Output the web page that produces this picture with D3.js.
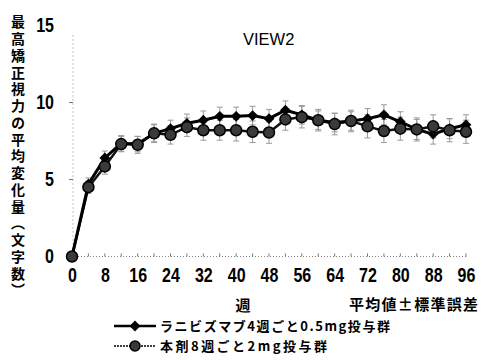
<!DOCTYPE html>
<html>
<head>
<meta charset="utf-8">
<script src="https://cdn.jsdelivr.net/npm/d3@7"></script>
<style>
  body { margin: 0; background: #fff; }
  svg { display: block; }
  .num { font-family: "Liberation Sans", Arial, sans-serif; font-weight: bold; font-size: 20px; fill: #000; }
  .jp { font-family: "Noto Sans CJK JP", sans-serif; font-weight: bold; fill: #000; }
</style>
</head>
<body>
<div id="chart"></div>
<script>
// weeks of measurement
const weeks = [0, 4, 8, 12, 16, 20, 24, 28, 32, 36, 40, 44, 48, 52, 56, 60, 64, 68, 72, 76, 80, 84, 88, 92, 96];
// ranibizumab 0.5mg q4w (diamond)
const ranibizumab = [0, 4.7, 6.4, 7.35, 7.3, 8.0, 8.3, 8.65, 8.85, 9.1, 9.1, 9.15, 8.95, 9.5, 9.2, 8.85, 8.7, 8.8, 8.95, 9.2, 8.75, 8.25, 7.95, 8.3, 8.55];
const ranibizumabSE = [0, 0.4, 0.45, 0.5, 0.5, 0.55, 0.55, 0.6, 0.6, 0.6, 0.6, 0.6, 0.6, 0.6, 0.6, 0.6, 0.6, 0.6, 0.65, 0.65, 0.65, 0.65, 0.65, 0.65, 0.65];
// this drug 2mg q8w (circle)
const aflibercept = [0, 4.5, 5.85, 7.3, 7.25, 8.0, 7.9, 8.4, 8.2, 8.2, 8.2, 8.1, 8.05, 8.9, 9.05, 8.85, 8.6, 8.8, 8.45, 8.15, 8.3, 8.25, 8.45, 8.2, 8.1];
const afliberceptSE = [0, 0.4, 0.5, 0.5, 0.55, 0.6, 0.6, 0.6, 0.65, 0.65, 0.7, 0.7, 0.7, 0.7, 0.7, 0.7, 0.7, 0.7, 0.75, 0.75, 0.75, 0.75, 0.75, 0.75, 0.75];

const xTicks = [0, 8, 16, 24, 32, 40, 48, 56, 64, 72, 80, 88, 96];
const yTicks = [0, 5, 10, 15];
const yLabel = "最高矯正視力の平均変化量（文字数）";
const title = "VIEW2";
const xLabel = "週";
const note = "平均値±標準誤差";
const legendNames = ["ラニビズマブ4週ごと0.5mg投与群", "本剤8週ごと2mg投与群"];

const width = 483, height = 360;

const svg = d3.select("#chart")
    .append("svg")
    .attr("width", width)
    .attr("height", height);

const x = d3.scaleLinear().domain([0, 96]).range([72, 466]);
const y = d3.scaleLinear().domain([0, 15]).range([256.5, 25.5]);

// dotted axes
svg.append("line")
    .attr("x1", x(0)).attr("x2", x(96) + 2)
    .attr("y1", y(0)).attr("y2", y(0))
    .attr("stroke", "#888").attr("stroke-width", 1)
    .attr("stroke-dasharray", "1,2");

svg.append("line")
    .attr("x1", x(0) + 1).attr("x2", x(0) + 1)
    .attr("y1", y(0)).attr("y2", y(14.5))
    .attr("stroke", "#888").attr("stroke-width", 1)
    .attr("stroke-dasharray", "1,3");

// minor ticks on x axis
svg.selectAll(".xminor")
    .data(weeks.slice(1))
    .enter()
    .append("line")
    .attr("x1", d => x(d)).attr("x2", d => x(d))
    .attr("y1", y(0)).attr("y2", y(0) - 3)
    .attr("stroke", "#777");

// small ticks on y axis
svg.selectAll(".yminor")
    .data([5, 10])
    .enter()
    .append("line")
    .attr("x1", x(0) - 3).attr("x2", x(0) + 1)
    .attr("y1", d => y(d)).attr("y2", d => y(d))
    .attr("stroke", "#777");

// Axes (labels only), condensed digits
const xAxis = svg.append("g")
    .attr("transform", `translate(0, ${y(0)})`)
    .call(d3.axisBottom(x).tickValues(xTicks).tickSize(0).tickPadding(11));
xAxis.select(".domain").remove();
xAxis.selectAll("text")
    .attr("class", "num").attr("font-size", null).attr("font-family", null)
    .attr("transform", "scale(0.8,1)");

const yAxis = svg.append("g")
    .attr("transform", `translate(54, 0)`)
    .call(d3.axisLeft(y).tickValues(yTicks).tickSize(0).tickPadding(0));
yAxis.select(".domain").remove();
yAxis.selectAll("text")
    .attr("class", "num").attr("font-size", null).attr("font-family", null)
    .attr("transform", "scale(0.8,1)");

// Title
svg.append("text")
    .attr("x", 243)
    .attr("y", 45)
    .attr("font-family", "Liberation Sans, Arial, sans-serif")
    .attr("font-size", 16.5)
    .text(title);

// Y label (vertical text)
svg.append("text")
    .attr("class", "jp")
    .attr("font-size", 14)
    .attr("x", 18)
    .attr("y", 15)
    .style("writing-mode", "vertical-rl")
    .attr("textLength", 282)
    .attr("lengthAdjust", "spacing")
    .text(yLabel);

// X label and note
svg.append("text")
    .attr("class", "jp")
    .attr("font-size", 15)
    .attr("text-anchor", "middle")
    .attr("x", 243)
    .attr("y", 311)
    .text(xLabel);

svg.append("text")
    .attr("class", "jp")
    .attr("font-size", 15)
    .attr("x", 349)
    .attr("y", 310)
    .attr("textLength", 129)
    .attr("lengthAdjust", "spacing")
    .text(note);

// Error bars
function drawErrors(vals, se) {
    const g = svg.append("g").attr("stroke", "#999").attr("stroke-width", 1);
    weeks.forEach((w, i) => {
        if (i === 0) return;
        const top = y(vals[i] + se[i]), bot = y(vals[i] - se[i]);
        g.append("line").attr("x1", x(w)).attr("x2", x(w)).attr("y1", top).attr("y2", bot);
        g.append("line").attr("x1", x(w) - 3).attr("x2", x(w) + 3).attr("y1", top).attr("y2", top);
        g.append("line").attr("x1", x(w) - 3).attr("x2", x(w) + 3).attr("y1", bot).attr("y2", bot);
    });
}
drawErrors(ranibizumab, ranibizumabSE);
drawErrors(aflibercept, afliberceptSE);

const line = d3.line()
    .x((d, i) => x(weeks[i]))
    .y(d => y(d));

svg.append("path")
    .datum(aflibercept)
    .attr("fill", "none")
    .attr("stroke", "#111")
    .attr("stroke-width", 2.5)
    .attr("d", line);

svg.append("path")
    .datum(ranibizumab)
    .attr("fill", "none")
    .attr("stroke", "#000")
    .attr("stroke-width", 3)
    .attr("d", line);

const diamond = d3.symbol(d3.symbolSquare, 58);

svg.selectAll(".dia")
    .data(ranibizumab)
    .enter()
    .append("path")
    .attr("d", diamond)
    .attr("transform", (d, i) => `translate(${x(weeks[i])}, ${y(d)}) rotate(45)`)
    .attr("fill", "#000");

svg.selectAll(".circ")
    .data(aflibercept)
    .enter()
    .append("circle")
    .attr("cx", (d, i) => x(weeks[i]))
    .attr("cy", d => y(d))
    .attr("r", 5.5)
    .attr("fill", "#3a3a3a")
    .attr("stroke", "#000")
    .attr("stroke-width", 1.5);

// Legend
const legendY = [326, 346];
const legendLen = [230, 167];
legendNames.forEach((name, i) => {
    const ly = legendY[i];
    svg.append("line")
        .attr("x1", 114).attr("x2", 156)
        .attr("y1", ly).attr("y2", ly)
        .attr("stroke", "#000")
        .attr("stroke-width", i === 0 ? 2.5 : 1.5)
        .attr("stroke-dasharray", i === 0 ? null : "2,1");
    if (i === 0) {
        svg.append("path")
            .attr("d", diamond)
            .attr("transform", `translate(135, ${ly}) rotate(45)`)
            .attr("fill", "#000");
    } else {
        svg.append("circle")
            .attr("cx", 135).attr("cy", ly).attr("r", 5)
            .attr("fill", "#3a3a3a").attr("stroke", "#000").attr("stroke-width", 1.5);
    }
    svg.append("text")
        .attr("class", "jp")
        .attr("font-size", 13)
        .attr("x", 160)
        .attr("y", ly + 4.5)
        .attr("textLength", legendLen[i])
        .attr("lengthAdjust", "spacing")
        .text(name);
});
</script>
</body>
</html>
